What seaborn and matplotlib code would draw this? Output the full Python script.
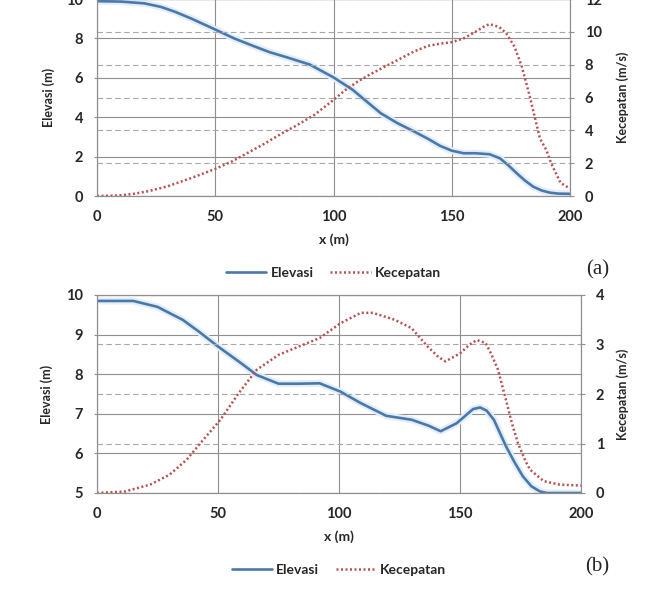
import matplotlib
matplotlib.use("Agg")
import matplotlib.pyplot as plt
import seaborn as sns


# panel (a): distance, elevation (m), velocity (m/s)
xa_elev = [0, 10, 20, 27, 33, 40, 50, 58, 66, 73, 80, 90, 100, 108, 115, 120, 127,
	134, 140, 145, 150, 155, 160, 166, 170.4, 174, 177.5, 181, 184.5, 188, 191.5, 195, 200]
a_elev = [9.89, 9.87, 9.78, 9.6, 9.35, 9.0, 8.45, 8.0, 7.62, 7.3, 7.05, 6.67, 6.02, 5.4, 4.7,
	4.2, 3.7, 3.28, 2.9, 2.55, 2.3, 2.17, 2.17, 2.12, 1.91, 1.55, 1.15, 0.78, 0.47, 0.28, 0.17, 0.12, 0.11]

xa_vel = [0, 8, 15, 22, 30, 40, 50, 57, 64, 71, 78, 85, 92, 100, 105, 110, 116, 122, 128,
	134, 140, 146, 150, 155, 160, 164, 166, 170, 173, 176.5, 179.6, 183, 187.3, 190, 192,
	194, 196, 200]
a_vel = [0, 0.02, 0.12, 0.3, 0.6, 1.1, 1.65, 2.1, 2.65, 3.2, 3.8, 4.35, 4.95, 5.85, 6.45,
	6.95, 7.45, 7.9, 8.35, 8.8, 9.15, 9.3, 9.37, 9.6, 10.0, 10.35, 10.47, 10.3, 9.92, 9.1,
	7.9, 6.06, 3.5, 2.8, 2.0, 1.4, 0.8, 0.45]

# panel (b)
xb_elev = [0, 15, 25, 35.5, 42, 50, 59.5, 66, 75, 83.5, 92, 100.6, 109, 119.5, 130, 137,
	142, 148.6, 155.4, 158.3, 161, 164, 169, 172.5, 176, 179.5, 183, 186, 193, 200]
b_elev = [9.85, 9.85, 9.7, 9.37, 9.08, 8.7, 8.28, 7.98, 7.76, 7.76, 7.77, 7.56, 7.27, 6.95,
	6.85, 6.7, 6.56, 6.76, 7.12, 7.16, 7.08, 6.85, 6.18, 5.78, 5.42, 5.17, 5.04, 5.0, 5.0, 5.0]

xb_vel = [0, 11.5, 22, 30, 37, 44, 51, 58.6, 66, 75, 83.5, 92, 100.6, 109, 114, 123, 130,
	136.6, 141, 144, 150, 154, 157, 160.6, 163, 165.7, 169, 171.5, 174, 177, 179, 184.6,
	191, 200]
b_vel = [0, 0.03, 0.17, 0.37, 0.67, 1.08, 1.48, 2.02, 2.49, 2.79, 2.96, 3.13, 3.43, 3.64,
	3.64, 3.5, 3.33, 2.96, 2.75, 2.66, 2.82, 3.0, 3.09, 3.03, 2.8, 2.49, 1.88, 1.4, 1.0, 0.65,
	0.47, 0.24, 0.17, 0.15]

x_ticks = [0, 50, 100, 150, 200]

BLUE = "#4a78ab"
RED = "#b8504f"
GRID = "#8f8f8f"

sns.set_style("white")
plt.rcParams["font.family"] = ["Lato", "DejaVu Sans"]
plt.rcParams["font.weight"] = "bold"

fig = plt.figure(figsize=(6.5, 5.92), dpi=100)
ax_a = fig.add_axes([97 / 650, 1 - 196 / 592, 473 / 650, 197 / 592])
ax_b = fig.add_axes([97 / 650, 1 - 493 / 592, 484 / 650, 198 / 592])


def panel(ax, xe, elev, xv, vel, ylim, yticks, y2lim, y2ticks, y_right_pos):
	ax2 = ax.twinx()

	sns.lineplot(x=xe, y=elev, ax=ax, color="#e3eef8", lw=5, sort=False)
	sns.lineplot(x=xe, y=elev, ax=ax, color=BLUE, lw=1.9, sort=False, label="Elevasi")
	sns.lineplot(x=xv, y=vel, ax=ax2, color=RED, lw=1.8, sort=False,
		linestyle=(0, (0.8, 1.0)), label="Kecepatan")

	ax.set_xlim(0, 200)
	ax.set_ylim(*ylim)
	ax.set_xticks(x_ticks)
	ax.set_yticks(yticks)
	ax2.set_ylim(*y2lim)
	ax2.set_yticks(y2ticks)

	ax.grid(True, color=GRID, lw=0.8, ls="-")
	ax2.grid(True, axis="y", color="#a8a8a8", lw=0.8, ls=(0, (5, 3)))
	ax2.set_axisbelow(True)

	for a in (ax, ax2):
		for s in a.spines.values():
			s.set_color(GRID)
			s.set_linewidth(0.8)
	ax.tick_params(axis="both", labelsize=10.5, length=2.5, pad=7.5, color=GRID)
	ax2.tick_params(axis="y", labelsize=10.5, length=3, pad=7.5, color=GRID, right=True)

	ax.set_xlabel("x (m)", fontsize=10, fontweight="bold", va="center")
	ax.xaxis.set_label_coords(0.5, -0.223)
	ax.set_ylabel("Elevasi (m)", fontsize=9, fontweight="bold", va="center")
	ax.yaxis.set_label_coords(-0.103, 0.5)
	ax2.set_ylabel("Kecepatan (m/s)", fontsize=9, fontweight="bold", va="center",
		rotation=90)
	ax2.yaxis.set_label_coords(y_right_pos, 0.5)

	for a in (ax, ax2):
		if a.get_legend() is not None:
			a.get_legend().remove()

	h1, l1 = ax.get_legend_handles_labels()
	h2, l2 = ax2.get_legend_handles_labels()
	ax2.legend(h1 + h2, l1 + l2, loc="center", bbox_to_anchor=(0.5, -0.389), ncol=2,
		frameon=False, fontsize=10, handlelength=2.9, handletextpad=0.3,
		columnspacing=1.2)


panel(ax_a, xa_elev, a_elev, xa_vel, a_vel, (0, 10), [0, 2, 4, 6, 8, 10],
	(0, 12), [0, 2, 4, 6, 8, 10, 12], 1.112)
panel(ax_b, xb_elev, b_elev, xb_vel, b_vel, (5, 10), [5, 6, 7, 8, 9, 10],
	(0, 4), [0, 1, 2, 3, 4], 1.087)

fig.text(598 / 650, 1 - 270 / 592, "(a)", family="Liberation Serif", fontweight="normal",
	fontsize=15, ha="center", va="center")
fig.text(597 / 650, 1 - 567 / 592, "(b)", family="Liberation Serif", fontweight="normal",
	fontsize=15, ha="center", va="center")

fig.savefig("out.png", dpi=100)
